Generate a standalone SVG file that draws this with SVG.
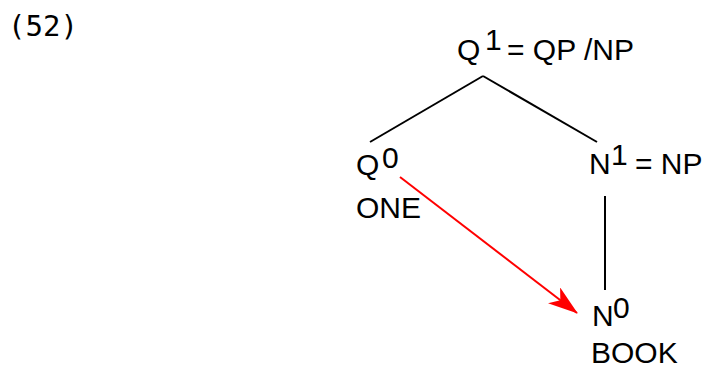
<svg xmlns="http://www.w3.org/2000/svg" width="705" height="368" viewBox="0 0 705 368">
<style>
.t{font-family:"Liberation Sans",Arial,sans-serif;font-size:30px;fill:#000}
.e{stroke:#000;stroke-width:2;fill:none}
.r{stroke:#f00;stroke-width:2;fill:none}
</style>
<defs>
<marker id="ah" viewBox="0 0 30 20" refX="29" refY="10" markerWidth="30" markerHeight="20" markerUnits="userSpaceOnUse" orient="auto">
<path d="M0,0 L30,10 L0,20 L8,10 Z" fill="#f00"/>
</marker>
</defs>
<rect width="705" height="368" fill="#fff"/>
<text x="8" y="36" style="font-family:'DejaVu Sans Mono',monospace;font-size:29px">(52)</text>
<g id="connectors">
<line class="e" x1="483" y1="76" x2="370" y2="142"/>
<line class="e" x1="483" y1="76" x2="597" y2="142"/>
<line class="e" x1="605" y1="196" x2="605" y2="290"/>
<line class="r" x1="400" y1="177" x2="577" y2="313" marker-end="url(#ah)"/>
</g>
<g id="Q1"><text class="t" x="457" y="60">Q</text><text class="t" x="485" y="50">1</text><text class="t" x="507" y="60">= QP /NP</text></g>
<g id="Q0"><text class="t" x="356" y="175">Q</text><text class="t" x="382" y="168">0</text><text class="t" x="356" y="218">ONE</text></g>
<g id="N1"><text class="t" x="589" y="174">N</text><text class="t" x="611" y="165">1</text><text class="t" x="635" y="174">= NP</text></g>
<g id="N0"><text class="t" x="592" y="326">N</text><text class="t" x="613" y="318">0</text><text class="t" x="591" y="363">BOOK</text></g>
</svg>
